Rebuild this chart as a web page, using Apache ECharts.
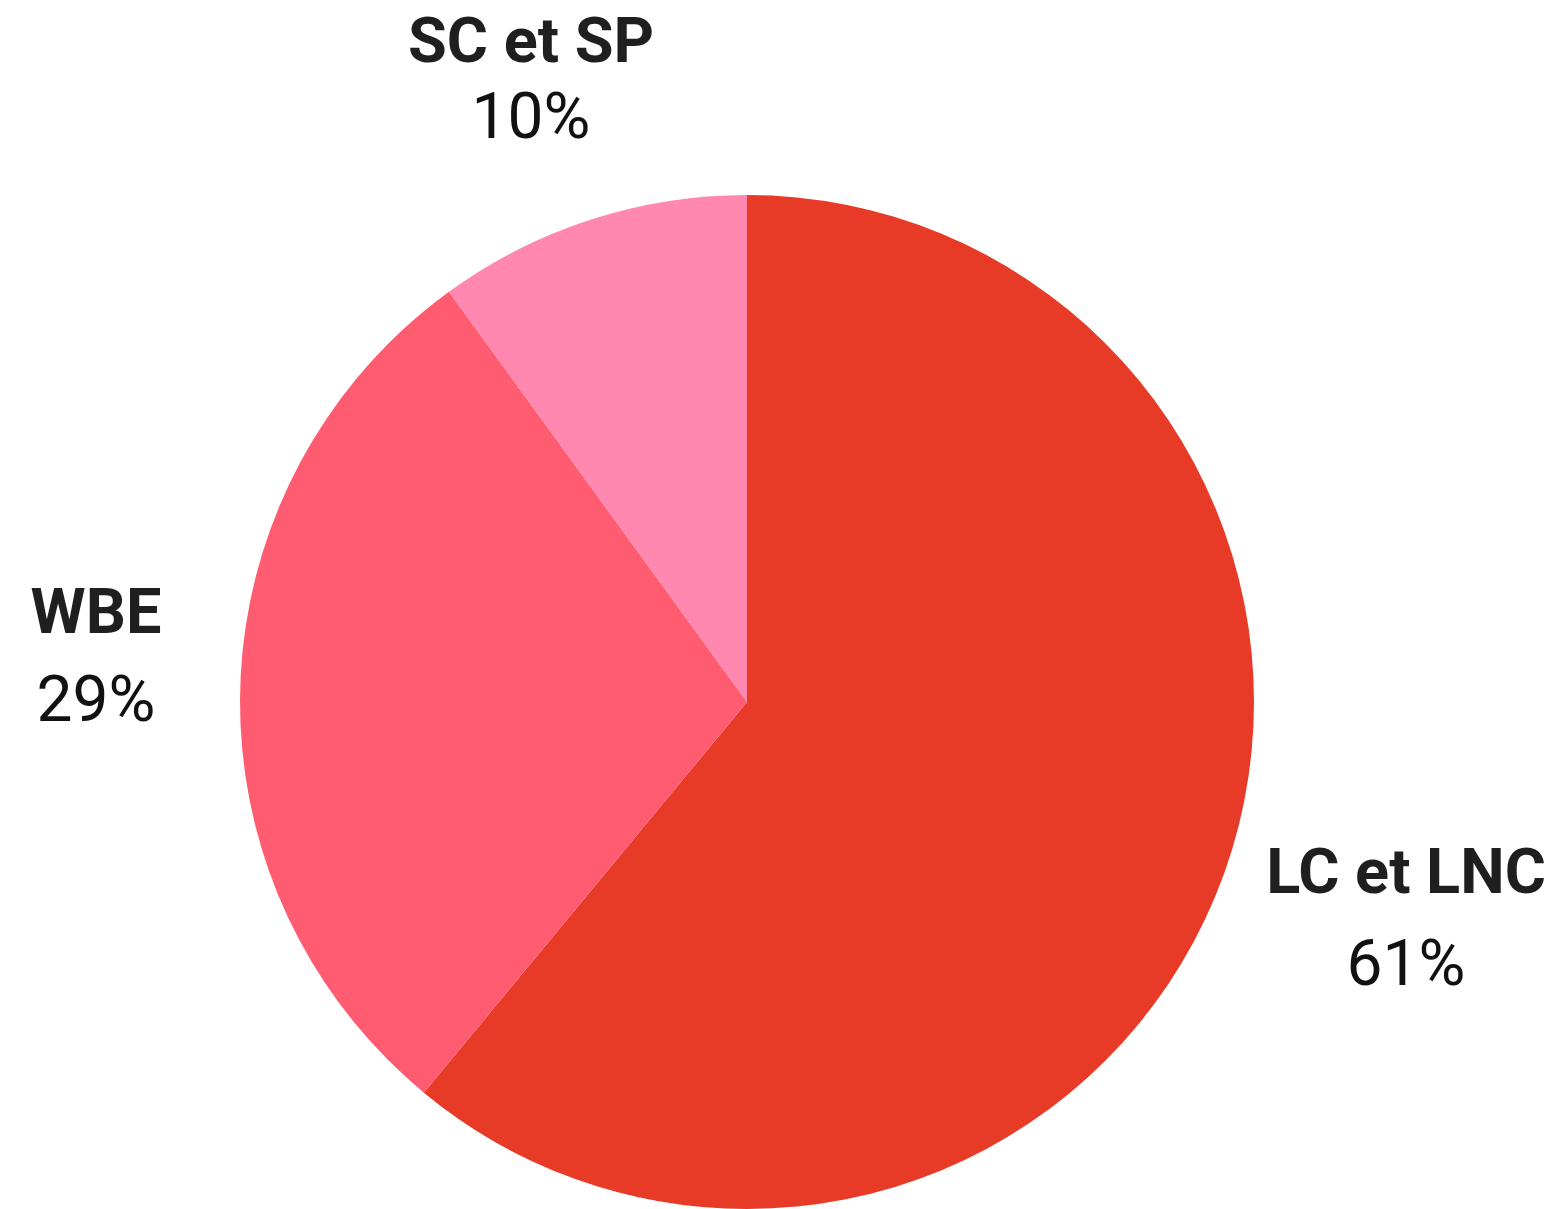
<!DOCTYPE html>
<html>
<head>
<meta charset="utf-8">
<style>
  html, body { margin: 0; padding: 0; background: #fff; }
  #chart { width: 1563px; height: 1209px; }
</style>
<script src="https://cdn.jsdelivr.net/npm/echarts@6/dist/echarts.min.js"></script>
</head>
<body>
<div id="chart"></div>
<script>
const categories = ['LC et LNC', 'WBE', 'SC et SP']
const shares = [61, 29, 10]

const COLORS = ['#e73b27', '#ff5c72', '#ff87b0']
// where each label block sits (centre), and spacing between its two lines
const LABEL_POS = [
  { x: 1406, y: 923, gap: 91 },
  { x: 96, y: 661, gap: 87 },
  { x: 531, y: 84, gap: 76 },
]

const chart = echarts.init(document.getElementById('chart'))

chart.setOption({
  animation: false,
  series: [{
    type: 'pie',
    center: [747, 702],
    radius: 507,
    startAngle: 90,
    clockwise: true,
    percentPrecision: 0,
    avoidLabelOverlap: false,
    itemStyle: { borderWidth: 0 },
    labelLine: { show: false },
    emphasis: { disabled: true },
    label: {
      show: true,
      position: 'outside',
      formatter: '{n|{b}}\n{p|{d}%}',
      color: '#1f1f1f',
      rich: {
        n: { fontFamily: 'Roboto', fontWeight: 'bold', fontSize: 63, color: '#1f1f1f' },
        p: { fontFamily: 'Roboto', fontWeight: 'normal', fontSize: 64, color: '#111' },
      },
    },
    labelLayout: (params) => {
      const p = LABEL_POS[params.dataIndex]
      return { x: p.x, y: p.y, align: 'center', verticalAlign: 'middle' }
    },
    data: categories.map((name, i) => ({
      name,
      value: shares[i],
      itemStyle: { color: COLORS[i] },
      label: {
        rich: {
          n: { lineHeight: LABEL_POS[i].gap },
          p: { lineHeight: LABEL_POS[i].gap },
        },
      },
    })),
  }],
})

window.addEventListener('resize', () => chart.resize())
</script>
</body>
</html>
